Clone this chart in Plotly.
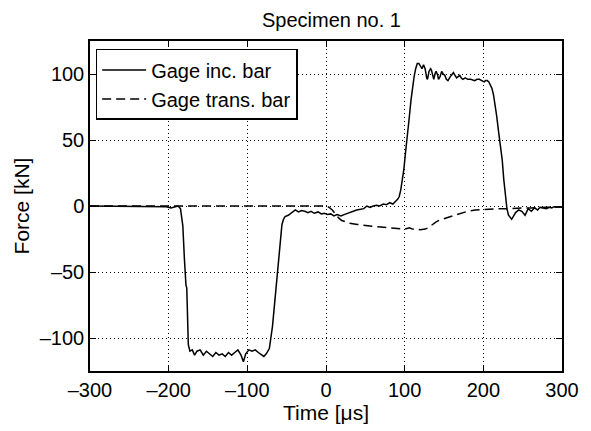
import plotly.graph_objects as go

# ---- data ----
t_inc = [-300, -250, -210, -203, -197, -192, -188, -185, -182, -180, -179, -178, -177, -176, -175, -173,
         -170, -167, -164, -160, -156, -152, -148, -144, -140, -136, -132, -128, -124, -120, -116, -112,
         -108, -105, -102, -98, -94, -90, -86, -82, -79, -76, -72, -68, -65, -62, -60, -58, -56, -54, -52,
         -48, -44, -39, -35, -31, -27, -23, -19, -15, -10, -6, -2, 2, 6, 10, 14, 19, 23, 27, 31, 35, 39,
         44, 48, 52, 56, 60, 64, 68, 73, 77, 81, 85, 88, 91, 93, 95, 97, 99, 101, 104, 106, 108, 110, 112,
         114, 116, 118, 120, 122, 124, 126, 128, 129, 131, 133, 134, 136, 137, 139, 140, 142, 143, 145,
         147, 149, 151, 153, 155, 158, 162, 164, 166, 168, 170, 172, 174, 177, 180, 184, 189, 192, 195,
         198, 201, 203, 205, 207, 209, 211, 213, 215, 217, 219, 222, 224, 226, 228, 230, 232, 234, 236,
         238, 241, 245, 249, 253, 257, 261, 265, 269, 272, 276, 280, 284, 287, 290, 295, 300]
f_inc = [0, 0, 0, -0.5, -1.5, -0.5, 0, -2, -15, -40, -55, -60, -62, -85, -105, -110,
         -109, -113, -110, -109, -113, -110, -112, -114, -111, -113, -112, -114, -111, -113, -111, -109,
         -113, -118, -112, -109, -110, -109, -111, -113, -114, -112, -108, -91, -72, -54, -38, -24, -14, -10, -8,
         -7, -5, -3, -4.5, -3.5, -4, -5, -4, -5.5, -4.5, -6, -5.5, -6.5, -6, -7.5, -6.5, -7.5, -6.5, -5.5, -5, -4, -3,
         -2.5, -2, 0, -1, 0, 0.5, 0, 1.5, 1, 2.5, 1.5, 3, 5, 7, 12, 20, 28, 40, 55, 68, 80, 90, 98,
         104, 108, 108, 106, 104, 107, 104, 97, 96, 102, 104, 103, 97, 96, 101, 102, 99, 96, 98,
         102, 100, 99, 96, 95, 98, 101, 99, 97, 98, 99, 97, 96, 97, 96, 96, 95, 96, 96,
         95, 94, 95, 95, 94, 92, 89, 84, 77, 68, 58, 45, 35, 20, 8, -2, -7, -9, -10,
         -8, -5, -3, -4, -7, -2, -4, -1.5, -3, -1, -1.5, -2, -1, -1.5, -0.5, -1, -1]

t_tr = [-300, -200, -100, 0, 4, 8, 12, 16, 20, 24, 30, 40, 50, 60, 70, 80, 90, 100, 106, 110, 120,
        126, 130, 135, 140, 145, 150, 160, 170, 180, 190, 200, 210, 220, 230, 240, 250, 260, 270,
        280, 290, 300]
f_tr = [0, 0, 0, 0, -1, -3, -6, -9, -11, -12, -13, -14, -15, -15.5, -16, -16.5, -17, -17.5, -16.5, -17.5, -18,
        -17.5, -16.5, -14, -12, -10.5, -9.5, -7.5, -5.5, -4, -3, -2.5, -2, -2, -2, -1.5, -1.5, -1.5, -1,
        -1, -1, -0.5]

x_ticks = [-300, -200, -100, 0, 100, 200, 300]
x_ticklabels = ["\u2013300", "\u2013200", "\u2013100", "0", "100", "200", "300"]
y_ticks = [-100, -50, 0, 50, 100]
y_ticklabels = ["\u2013100", "\u201350", "0", "50", "100"]

FONT = "Liberation Sans, Arial, Helvetica, sans-serif"

fig = go.Figure()
fig.add_trace(go.Scatter(x=t_inc, y=f_inc, mode="lines", name="Gage inc. bar",
                         line=dict(color="black", width=1.5)))
fig.add_trace(go.Scatter(x=t_tr, y=f_tr, mode="lines", name="Gage trans. bar",
                         line=dict(color="black", width=1.5, dash="9px,5px")))

axis_common = dict(
    showline=True, linecolor="black", linewidth=1.5, mirror="ticks",
    ticks="inside", ticklen=6, tickcolor="black", tickwidth=1,
    showgrid=True, gridcolor="black", gridwidth=1, griddash="1px,3px",
    zeroline=False, tickfont=dict(size=20, color="black", family=FONT),
)

fig.update_layout(
    width=591, height=431,
    margin=dict(l=90, r=18, t=41, b=57),
    paper_bgcolor="white", plot_bgcolor="white",
    font=dict(family=FONT, color="black", size=20),
    title=dict(text="Specimen no. 1", x=(90 + 573) / 2 / 591, xanchor="center", y=1 - 20 / 431,
               yanchor="middle", font=dict(size=20, color="black", family=FONT)),
    xaxis=dict(range=[-300, 300], tickvals=x_ticks, ticktext=x_ticklabels,
               title=dict(text="Time [\u03bcs]", font=dict(size=21), standoff=4), **axis_common),
    yaxis=dict(range=[-125, 125], tickvals=y_ticks, ticktext=y_ticklabels,
               title=dict(text="Force [kN]", font=dict(size=21), standoff=4), **axis_common),
    legend=dict(x=0.012, y=0.976, xanchor="left", yanchor="top", bgcolor="white",
                bordercolor="black", borderwidth=1.5, font=dict(size=20, family=FONT),
                tracegroupgap=0, itemwidth=44),
    showlegend=True,
)

fig.write_html("out.html")
